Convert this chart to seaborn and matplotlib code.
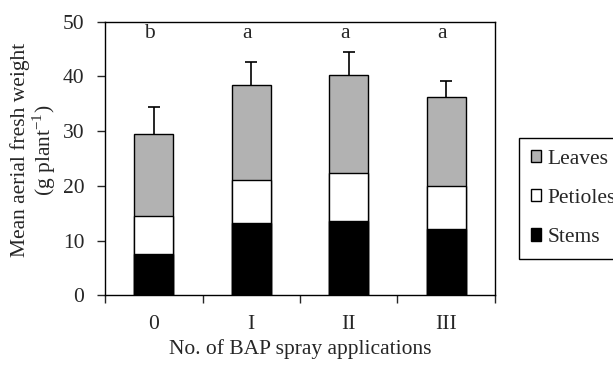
import matplotlib
matplotlib.use("Agg")
import matplotlib.pyplot as plt
import seaborn as sns
import pandas as pd
import numpy as np
from matplotlib.patches import Patch

categories = ["0", "I", "II", "III"]
stems = [7.5, 13.3, 13.6, 12.2]
petioles = [7.0, 7.8, 8.7, 7.8]
leaves = [15.0, 17.3, 18.0, 16.3]
sem = [5.0, 4.3, 4.2, 2.9]
letters = ["b", "a", "a", "a"]

sns.set_theme(style="white")
plt.rcParams['font.family'] = ['Liberation Serif', 'DejaVu Serif']
plt.rcParams['mathtext.fontset'] = 'custom'
plt.rcParams['mathtext.rm'] = 'Liberation Serif'
FS = 15.5

df = pd.DataFrame({"cat": categories, "stems": stems, "petioles": petioles, "leaves": leaves})
df["sp"] = df["stems"] + df["petioles"]
df["total"] = df["sp"] + df["leaves"]

fig = plt.figure(figsize=(6.13, 3.65), dpi=100)
ax = fig.add_axes([0.1713, 0.191, 0.6362, 0.7495])

kw = dict(edgecolor="black", linewidth=1.0, width=0.4, ax=ax, order=categories)
sns.barplot(data=df, x="cat", y="total", color="#b2b2b2", saturation=1, **kw)
sns.barplot(data=df, x="cat", y="sp", color="white", saturation=1, **kw)
sns.barplot(data=df, x="cat", y="stems", color="black", saturation=1, **kw)
for p in ax.patches:
    p.set_zorder(2)

xs = np.arange(len(categories))
# symmetric error bars; the lower half is hidden behind the opaque bars
ax.errorbar(xs, df["total"], yerr=sem, fmt="none",
            ecolor="black", elinewidth=1.2, capsize=4, capthick=1.2, zorder=1)
for x, l in zip(xs, letters):
    ax.text(x - 0.04, 47.8, l, ha="center", va="center", fontsize=FS)

ax.set_ylim(0, 50)
ax.set_xlim(-0.5, 3.5)
ax.set_yticks([0, 10, 20, 30, 40, 50])
ax.set_xticks(xs)
ax.set_xticklabels(categories)
ax.set_xticks(np.arange(-0.5, 4.0, 1.0), minor=True)
ax.tick_params(axis="x", which="major", length=0, pad=14, labelsize=FS)
ax.tick_params(axis="x", which="minor", length=6, width=1, direction="out", bottom=True)
ax.tick_params(axis="y", length=6, width=1, direction="out", left=True, labelsize=FS, pad=9)
for s in ax.spines.values():
    s.set_color("black")
    s.set_linewidth(1.0)
ax.set_xlabel("No. of BAP spray applications", fontsize=FS, labelpad=4)
ax.set_ylabel("Mean aerial fresh weight\n(g plant$^{\\mathrm{-1}}$)", fontsize=FS,
              linespacing=1.05)
ax.yaxis.set_label_coords(-0.12, 0.53)

handles = [Patch(facecolor="#b2b2b2", edgecolor="black", label="Leaves"),
           Patch(facecolor="white", edgecolor="black", label="Petioles"),
           Patch(facecolor="black", edgecolor="black", label="Stems")]
leg = ax.legend(handles=handles, loc="upper left", bbox_to_anchor=(1.061, 0.576),
                frameon=True, fancybox=False, edgecolor="black", fontsize=FS,
                handlelength=0.5, handleheight=0.5, handletextpad=0.3,
                labelspacing=0.94, borderpad=0.55, borderaxespad=0, framealpha=1)
leg.get_frame().set_linewidth(1.0)

fig.savefig("out.png", dpi=100)
